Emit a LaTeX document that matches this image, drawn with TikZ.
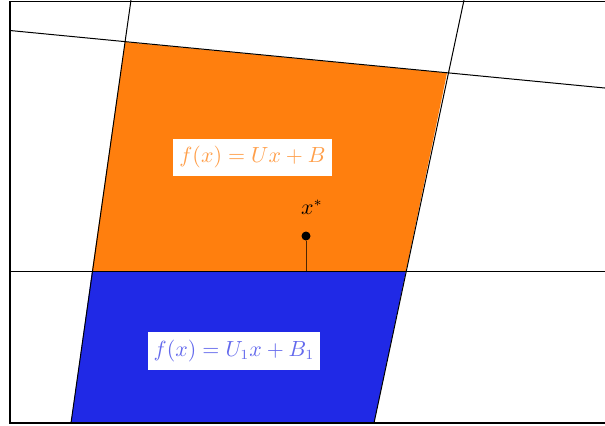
\documentclass[tikz,border=0pt]{standalone}
\usepackage{tikz}
\definecolor{fillorange}{RGB}{255,127,14}
\definecolor{fillblue}{RGB}{32,41,230}
\tikzset{
  gridline/.style={line width=0.5pt, black},
  framestyle/.style={line width=0.8pt, black},
  labelbox/.style={fill=white, inner xsep=3pt, inner ysep=4pt, font=\fontsize{10.5}{12}\selectfont},
}
\begin{document}
\begin{tikzpicture}[x=0.5pt,y=-0.5pt]
\useasboundingbox (0,0) rectangle (605,425);
\clip (0,0) rectangle (605,425);
% corner coordinates
\coordinate (A) at (125,42);
\coordinate (B) at (447,73);
\coordinate (C) at (406,271);
\coordinate (D) at (92,271);
\coordinate (E) at (374,423);
\coordinate (F) at (71,423);
% fills
\fill[fillorange] (A) -- (B) -- (C) -- (D) -- cycle;
\fill[fillblue] (D) -- (C) -- (E) -- (F) -- cycle;
% grid lines
\coordinate (L1a) at (10,30.5);
\coordinate (L1b) at (610,88.5);
\draw[gridline] (L1a) -- (L1b);
\coordinate (H1a) at (10,271);
\coordinate (H1b) at (610,271);
\draw[gridline] (H1a) -- (H1b);
\coordinate (V1a) at (131,0);
\coordinate (V1b) at (71,423);
\draw[gridline] (V1a) -- (V1b);
\coordinate (V2a) at (464,0);
\coordinate (V2b) at (374,423);
\draw[gridline] (V2a) -- (V2b);
% frame
\draw[framestyle] (10,1.5) rectangle (640,423);
% point
\node[circle, fill=black, inner sep=0pt, minimum size=4.5pt] (xs) at (306,236) {};
\coordinate (xsfoot) at (306,271);
\draw[line width=0.5pt, black!70!fillorange] (xs) -- (xsfoot);
\node[font=\fontsize{10.5}{12}\selectfont, anchor=base] (xslabel) at (312,214) {$x^*$};
% labels
\node[labelbox, text=fillorange!75!white] (lab1) at (252.5,157.5) {$f(x) = Ux + B$};
\node[labelbox, text=fillblue!70!white] (lab2) at (234,351) {$f(x) = U_1x + B_1$};
\end{tikzpicture}
\end{document}
